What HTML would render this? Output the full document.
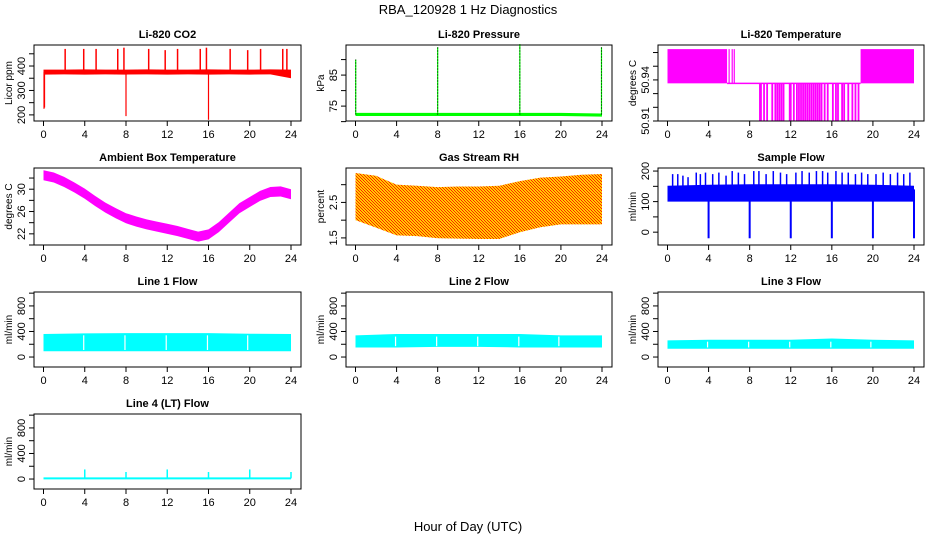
<!DOCTYPE html>
<html><head><meta charset="utf-8">
<style>
html,body{margin:0;padding:0;background:#fff;}
svg{display:block;font-family:"Liberation Sans",sans-serif;}
</style></head>
<body>
<svg id="chart" width="936" height="540" viewBox="0 0 936 540" xmlns="http://www.w3.org/2000/svg">
<defs>
<pattern id="rhpat" width="3" height="3" patternUnits="userSpaceOnUse">
<rect width="3" height="3" fill="#ffcc00"/><rect width="1" height="1" fill="#ff2000"/><rect x="1" y="1" width="1" height="1" fill="#ff2000"/><rect x="2" y="2" width="1" height="1" fill="#ff2000"/>
</pattern>
</defs>
<text x="468" y="14" text-anchor="middle" font-size="13">RBA_120928  1 Hz Diagnostics</text>
<text x="468" y="531" text-anchor="middle" font-size="13">Hour of Day (UTC)</text>
</svg>
<script>
const xTicks=[0,4,8,12,16,20,24];
// CO2
const co2Hours=[0,2,4,6,8,10,12,14,16,18,20,22,24];
const co2Lo=[365,366,365,366,365,366,365,366,365,366,365,366,350];
const co2Hi=[385,385,386,385,385,386,385,385,386,385,385,386,385];
const co2SpikeHours=[2.1,3.9,5.1,7.2,7.8,10.2,11.8,13.0,15.2,15.8,18.1,19.8,21.05,23.2,23.6];
const co2SpikeVals=[470,470,470,470,475,470,465,470,470,475,470,465,470,470,470];
const co2DipHours=[0.05,0.1,8.0,16.0];
const co2DipVals=[225,230,195,180];
// Pressure
const presHours=[0,4,8,12,16,20,24];
const presLo=[71.8,71.8,71.8,71.8,71.8,71.8,71.6];
const presHi=[72.8,72.8,72.8,72.8,72.8,72.8,72.6];
const presSpikeHours=[0.02,8.0,16.0,23.95];
const presSpikeVals=[90,94,95,94];
// Li-820 Temperature
const ltHigh=50.9625, ltMid=50.9375, ltLow=50.91;
const ltBlockStart=[0,18.8];
const ltBlockEnd=[5.8,24];
const ltHighSpikes=[6.0,6.3,6.5];
const ltLowSpikes=[9.0,9.1,9.4,9.7,10.2,10.5,10.7,10.9,11.1,11.3,11.9,12.0,12.3,12.6,12.8,13.0,13.2,13.4,13.6,13.8,14.0,14.2,14.4,14.6,14.8,15.0,15.3,15.6,16.1,16.4,16.6,17.0,17.2,17.6,18.0,18.3,18.6];
// Ambient
const ambHours=[0,1,2,3,4,5,6,7,8,9,10,11,12,13,14,15,16,17,18,19,20,21,22,23,24];
const ambTemp=[32.5,32.1,31.3,30.3,29.2,27.9,26.7,25.7,24.8,24.2,23.7,23.3,22.9,22.5,22.0,21.5,21.9,23.2,24.9,26.6,27.7,28.8,29.5,29.6,29.1];
// RH
const rhHours=[0,2,4,6,8,10,12,14,16,18,20,22,24];
const rhLo=[2.0,1.79,1.57,1.55,1.49,1.48,1.47,1.47,1.66,1.8,1.88,1.88,1.88];
const rhHi=[3.33,3.25,3.0,2.97,2.93,2.95,2.95,2.97,3.1,3.2,3.23,3.28,3.3];
// Sample flow
const sfHours=[0,4,8,12,16,20,24];
const sfLo=[100,100,100,100,100,100,100];
const sfHi=[152,155,157,157,157,155,152];
const sfSpikeHours=[0.5,1,1.5,2,2.8,3.2,3.7,4.4,5,5.7,6.3,6.9,7.5,8.4,8.9,9.6,10.3,11,11.6,12.5,13.1,13.8,14.5,15.1,15.6,16.4,17,17.6,18.3,18.9,19.5,20.3,21,21.7,22.4,23,23.6];
const sfSpikeVals=[190,190,185,180,195,190,195,190,195,185,200,195,190,200,200,190,200,195,190,195,200,195,200,200,195,200,195,195,190,195,190,190,195,190,195,190,195];
const sfDipHours=[4,8,12,16,20,24];
const sfDipVals=[-20,-20,-20,-20,-20,-20];
// Line flows
const lineHours=[0,4,8,12,16,20,24];
const l1Lo=[90,90,90,90,90,90,90];
const l1Hi=[360,370,375,375,375,365,360];
const l2Lo=[150,150,160,160,150,150,150];
const l2Hi=[340,360,360,360,360,340,340];
const l3Lo=[130,130,130,130,130,130,130];
const l3Hi=[260,270,270,270,290,270,260];
const lineGapHours=[3.9,7.9,11.9,15.9,19.8];
const l4Level=10;
const l4SpikeHours=[4,8,12,16,20,24];
const l4SpikeVals=[150,110,150,110,150,110];

const svg=document.getElementById('chart');
const NS='http://www.w3.org/2000/svg';
function mk(tag,attrs,parent){const e=document.createElementNS(NS,tag);for(const k in attrs)e.setAttribute(k,attrs[k]);(parent||svg).appendChild(e);return e;}
const cols=[[34,301],[346,612],[658,924]];
const rows=[[45,121],[168,245],[292,367],[414,489]];

function panel(p){
  const [L,R]=cols[p.col],[T,B]=rows[p.row];
  const g=mk('g',{});
  
  
  const x0=L+9.5,x1=R-10;
  const X=h=>x0+(x1-x0)*h/24;
  const Y=v=>B-(B-T)*(v-p.ymin)/(p.ymax-p.ymin);
  const data=mk('g',{},g);
  
  
  p.draw(data,X,Y);
  const box=mk('rect',{x:L,y:T,width:R-L,height:B-T,fill:'none',stroke:'#000','stroke-width':1},g);
  
  
  const t=mk('text',{x:(L+R)/2,y:T-7,'text-anchor':'middle','font-size':11,'font-weight':'bold'},g);
  t.textContent=p.title;
  
  
  const xa=mk('g',{stroke:'#000'},g);
  
  
  mk('line',{x1:X(0),x2:X(24),y1:B,y2:B},xa);
  xTicks.forEach(h=>{
    mk('line',{x1:X(h),x2:X(h),y1:B,y2:B+5},xa);
    const tl=mk('text',{x:X(h),y:B+17,'text-anchor':'middle','font-size':11,stroke:'none'},xa);
    tl.textContent=h;
    
    
  });
  const ya=mk('g',{stroke:'#000'},g);
  
  
  const yt=p.yticks;
  mk('line',{x1:L,x2:L,y1:Y(yt[0]),y2:Y(yt[yt.length-1])},ya);
  yt.forEach(v=>mk('line',{x1:L-5,x2:L,y1:Y(v),y2:Y(v)},ya));
  p.ylabels.forEach(v=>{
    const yy=Y(v);
    const tl=mk('text',{x:L-9,y:yy,'text-anchor':'middle','font-size':11,stroke:'none',transform:`rotate(-90 ${L-9} ${yy})`},ya);
    tl.textContent=v;
    
    
  });
  const yl=mk('text',{x:L-22,y:(T+B)/2,'text-anchor':'middle','font-size':10,transform:`rotate(-90 ${L-22} ${(T+B)/2})`},g);
  yl.textContent=p.ylab;
  
  
}
function band(g,X,Y,hours,lo,hi,fill,name){
  let pts=hours.map((h,i)=>X(h)+','+Y(hi[i]));
  for(let i=hours.length-1;i>=0;i--)pts.push(X(hours[i])+','+Y(lo[i]));
  const e=mk('polygon',{points:pts.join(' '),fill:fill},g);
  
  
  return e;
}
function vline(g,X,Y,h,v0,v1,color,w,name){
  const e=mk('line',{x1:X(h),x2:X(h),y1:Y(v0),y2:Y(v1),stroke:color,'stroke-width':w||1},g);
  
  
}

panel({name:'co2-panel',col:0,row:0,title:'Li-820 CO2',ylab:'Licor ppm',ymin:175,ymax:486,
  yticks:[200,250,300,350,400,450],ylabels:[200,300,400],
  draw:(g,X,Y)=>{
    band(g,X,Y,co2Hours,co2Lo,co2Hi,'#ff0000','co2-band');
    co2SpikeHours.forEach((h,i)=>vline(g,X,Y,h,375,co2SpikeVals[i],'#ff0000',1.5,'co2-spike'));
    co2DipHours.forEach((h,i)=>vline(g,X,Y,h,375,co2DipVals[i],'#ff0000',1.2,'co2-dip'));
  }});
panel({name:'pressure-panel',col:1,row:0,title:'Li-820 Pressure',ylab:'kPa',ymin:70.2,ymax:94.7,
  yticks:[70,75,80,85,90],ylabels:[75,85],
  draw:(g,X,Y)=>{
    band(g,X,Y,presHours,presLo,presHi,'#00ff00','pressure-band');
    presSpikeHours.forEach((h,i)=>{vline(g,X,Y,h,72.3,presSpikeVals[i],'#00ff00',1.2,'pressure-spike');
      const e=mk('line',{x1:X(h),x2:X(h),y1:Y(72.3),y2:Y(presSpikeVals[i]),stroke:'#000','stroke-width':1,'stroke-dasharray':'1,2'},g);
      
      });
  }});
panel({name:'li820-temperature-panel',col:2,row:0,title:'Li-820 Temperature',ylab:'degrees C',ymin:50.91,ymax:50.9655,
  yticks:[50.91,50.92,50.93,50.94,50.95,50.96],ylabels:[50.91,50.94],
  draw:(g,X,Y)=>{
    ltBlockStart.forEach((s,i)=>{const e=mk('rect',{x:X(s),y:Y(ltHigh),width:X(ltBlockEnd[i])-X(s),height:Y(ltMid)-Y(ltHigh),fill:'#ff00ff'},g);
      
      });
    const m=mk('line',{x1:X(ltBlockEnd[0]),x2:X(ltBlockStart[1]),y1:Y(ltMid),y2:Y(ltMid),stroke:'#ff00ff','stroke-width':1.5},g);
    
    
    ltHighSpikes.forEach(h=>vline(g,X,Y,h,ltMid,ltHigh,'#ff00ff',1.2,'temp-high-spike'));
    ltLowSpikes.forEach(h=>vline(g,X,Y,h,ltMid,ltLow,'#ff00ff',1.8,'temp-low-spike'));
  }});
panel({name:'ambient-temperature-panel',col:0,row:1,title:'Ambient Box Temperature',ylab:'degrees C',ymin:20,ymax:33.8,
  yticks:[20,22,24,26,28,30,32],ylabels:[22,26,30],
  draw:(g,X,Y)=>{
    band(g,X,Y,ambHours,ambTemp.map(v=>v-0.9),ambTemp.map(v=>v+0.9),'#ff00ff','ambient-temp-band');
  }});
panel({name:'rh-panel',col:1,row:1,title:'Gas Stream RH',ylab:'percent',ymin:1.3,ymax:3.47,
  yticks:[1.5,2.0,2.5,3.0],ylabels:[1.5,2.5],
  draw:(g,X,Y)=>{
    band(g,X,Y,rhHours,rhLo,rhHi,'url(#rhpat)','rh-band');
  }});
panel({name:'sample-flow-panel',col:2,row:1,title:'Sample Flow',ylab:'ml/min',ymin:-42,ymax:210,
  yticks:[0,50,100,150,200],ylabels:[0,100,200],
  draw:(g,X,Y)=>{
    band(g,X,Y,sfHours,sfLo,sfHi,'#0000ff','sample-flow-band');
    sfSpikeHours.forEach((h,i)=>vline(g,X,Y,h,140,sfSpikeVals[i],'#0000ff',1.5,'sample-flow-spike'));
    sfDipHours.forEach((h,i)=>vline(g,X,Y,h,140,sfDipVals[i],'#0000ff',2,'sample-flow-dip'));
  }});
const lineFlowTicks=[0,200,400,600,800,1000];
[[0,'line1-flow-panel','Line 1 Flow',l1Lo,l1Hi],[1,'line2-flow-panel','Line 2 Flow',l2Lo,l2Hi],[2,'line3-flow-panel','Line 3 Flow',l3Lo,l3Hi]].forEach(([c,n,t,lo,hi])=>{
  panel({name:n,col:c,row:2,title:t,ylab:'ml/min',ymin:-156,ymax:1018,yticks:lineFlowTicks,ylabels:[0,400,800],
    draw:(g,X,Y)=>{
      band(g,X,Y,lineHours,lo,hi,'#00ffff',n+'-band');
      lineGapHours.forEach(h=>vline(g,X,Y,h,lo[0]+20,hi[0]-20,'#ffffff',1.2,'flow-gap'));
    }});
});
panel({name:'line4-flow-panel',col:0,row:3,title:'Line 4 (LT) Flow',ylab:'ml/min',ymin:-156,ymax:1018,yticks:lineFlowTicks,ylabels:[0,400,800],
  draw:(g,X,Y)=>{
    band(g,X,Y,[0,24],[l4Level-15,l4Level-15],[l4Level+15,l4Level+15],'#00ffff','line4-flow-band');
    l4SpikeHours.forEach((h,i)=>vline(g,X,Y,h,l4Level,l4SpikeVals[i],'#00ffff',1.5,'line4-flow-spike'));
  }});
</script>
</body></html>
